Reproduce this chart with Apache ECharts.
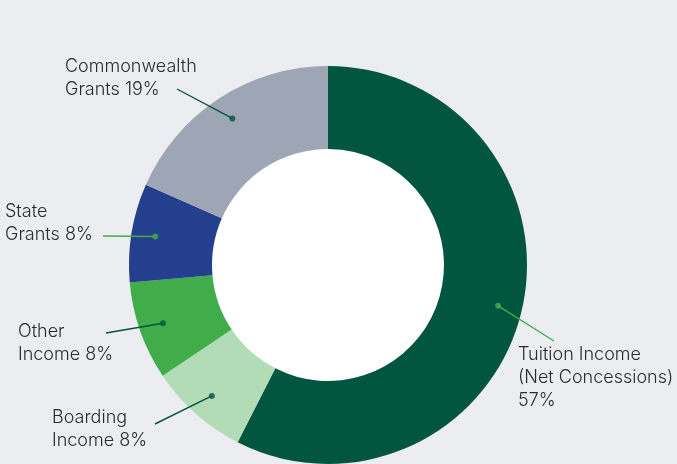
<!DOCTYPE html>
<html>
<head>
<meta charset="utf-8">
<script src="https://cdn.jsdelivr.net/npm/echarts@6/dist/echarts.min.js"></script>
<style>
  html, body { margin: 0; padding: 0; background: #ecedf1; }
  #chart { width: 677px; height: 464px; }
</style>
</head>
<body>
<div id="chart"></div>
<script>
// 收入构成（顺时针，从 12 点开始）
const categories = ['Tuition Income (Net Concessions)', 'Boarding Income', 'Other Income', 'State Grants', 'Commonwealth Grants']
const shares = [57.5, 8.1, 8.0, 8.0, 18.4]
const labelTexts = [
  'Tuition Income\n(Net Concessions)\n57%',
  'Boarding\nIncome 8%',
  'Other\nIncome 8%',
  'State\nGrants 8%',
  'Commonwealth\nGrants 19%'
]
const sliceColors = ['#02553e', '#b2dcb5', '#41ad4a', '#243f8e', '#9ea5b4']
const pointerColors = ['#41ad4a', '#02553e', '#02553e', '#41ad4a', '#02553e']

// label block top-left, and where each pointer line stops
const labelSpots = [[518, 343], [52, 406], [18, 320], [5, 200], [65, 55]]
const lineEnds = [[554, 341], [155, 424], [106, 333], [103, 236], [177, 89]]

const CENTER = [328, 265]
const OUTER = 199
const INNER = 116
const DOT_R = 175

// mid angle of each slice (as % of the circle) for the dots
let acc = 0
const total = shares.reduce((a, b) => a + b, 0)
const dotData = shares.map((v, i) => {
  const mid = (acc + v / 2) / total * 100
  acc += v
  return { value: [DOT_R / OUTER, mid], itemStyle: { color: pointerColors[i] } }
})

const myChart = echarts.init(document.getElementById('chart'))
myChart.setOption({
  backgroundColor: '#ecedf1',
  animation: false,
  polar: { center: CENTER, radius: OUTER },
  angleAxis: { type: 'value', min: 0, max: 100, startAngle: 90, clockwise: true, show: false },
  radiusAxis: { type: 'value', min: 0, max: 1, show: false },
  series: [
    {
      // 白色圆心
      type: 'pie',
      center: CENTER,
      radius: [0, INNER],
      silent: true,
      z: 1,
      label: { show: false },
      labelLine: { show: false },
      data: [{ value: 1, itemStyle: { color: '#ffffff' } }]
    },
    {
      type: 'pie',
      center: CENTER,
      radius: [INNER, OUTER],
      startAngle: 90,
      silent: true,
      z: 2,
      label: { show: false },
      labelLine: { show: false },
      data: categories.map((c, i) => ({ name: c, value: shares[i], itemStyle: { color: sliceColors[i] } }))
    },
    {
      // 透明的饼，只用来放标签和引导线
      type: 'pie',
      center: CENTER,
      radius: [0, DOT_R],
      startAngle: 90,
      silent: true,
      z: 3,
      avoidLabelOverlap: false,
      itemStyle: { color: 'rgba(0,0,0,0)' },
      label: {
        show: true,
        position: 'outside',
        color: '#2b2b2b',
        fontFamily: 'Inter',
        fontWeight: 300,
        fontSize: 18,
        lineHeight: 23,
        formatter: p => labelTexts[p.dataIndex]
      },
      labelLine: { show: true, length: 5, length2: 5, lineStyle: { width: 1.4 } },
      labelLayout: params => {
        const i = params.dataIndex
        const pts = params.labelLinePoints
        const start = pts ? [pts[0][0], pts[0][1]] : CENTER
        return {
          x: labelSpots[i][0],
          y: labelSpots[i][1],
          align: 'left',
          verticalAlign: 'top',
          labelLinePoints: [start, lineEnds[i]]
        }
      },
      data: categories.map((c, i) => ({
        name: c,
        value: shares[i],
        labelLine: { lineStyle: { color: pointerColors[i] } }
      }))
    },
    {
      type: 'scatter',
      coordinateSystem: 'polar',
      symbolSize: 6,
      silent: true,
      z: 5,
      data: dotData
    }
  ]
})
</script>
</body>
</html>
